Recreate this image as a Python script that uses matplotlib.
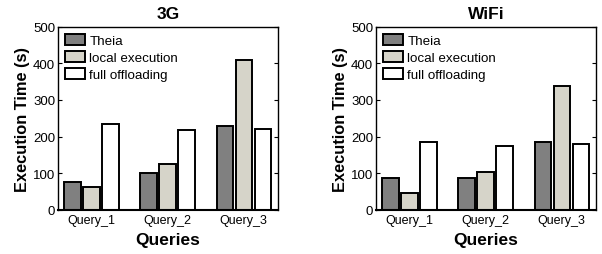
import matplotlib
matplotlib.use("Agg")
import matplotlib.pyplot as plt
import numpy as np

queries = ["Query_1", "Query_2", "Query_3"]
series = ["Theia", "local execution", "full offloading"]
colors = ["#808080", "#d6d4c9", "#ffffff"]

vals_3g = {
    "Theia": [77, 100, 228],
    "local execution": [64, 125, 408],
    "full offloading": [235, 217, 221],
}
vals_wifi = {
    "Theia": [87, 88, 184],
    "local execution": [47, 104, 338],
    "full offloading": [185, 175, 181],
}

plt.rcParams["font.family"] = ["Liberation Sans", "DejaVu Sans"]

fig = plt.figure(figsize=(6.02, 2.55), dpi=100)
W, H = 602, 255
panels = [("3G", vals_3g, 58), ("WiFi", vals_wifi, 376)]

x = np.arange(1, len(queries) + 1)
width = 0.215
step = 0.25

for title, vals, left in panels:
    ax = fig.add_axes([left / W, 1 - 211 / H, 220 / W, (211 - 27.5) / H])
    for i, (name, c) in enumerate(zip(series, colors)):
        ax.bar(x + (i - 1) * step, vals[name], width, color=c, edgecolor="black",
               linewidth=1.4, label=name)
    ax.set_xlim(0.56, 3.45)
    ax.set_ylim(0, 500)
    ax.set_yticks([0, 100, 200, 300, 400, 500])
    ax.set_xticks(x)
    ax.set_xticklabels(queries)
    ax.tick_params(axis="y", direction="in", right=True, length=3, labelsize=9.5, pad=2)
    ax.tick_params(axis="x", length=0, labelsize=9, pad=3)
    for s in ax.spines.values():
        s.set_linewidth(1.0)
    ax.spines["bottom"].set_linewidth(1.5)
    ax.set_title(title, fontsize=12.5, fontweight="bold", pad=6)
    ax.set_xlabel("Queries", fontsize=12.5, fontweight="bold", labelpad=4)
    ax.set_ylabel("Execution Time (s)", fontsize=11.8, fontweight="bold", labelpad=2)
    ax.legend(loc="upper left", frameon=False, fontsize=9.6, handlelength=1.5,
              handleheight=0.9, handletextpad=0.3, labelspacing=0.3,
              borderaxespad=0.25, borderpad=0.3)

fig.savefig("out.png", dpi=100, facecolor="white")
